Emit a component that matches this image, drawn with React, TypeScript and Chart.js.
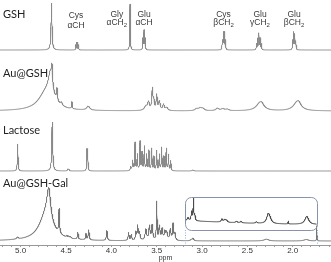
import React, { useEffect, useRef } from "react";
import { Chart, registerables } from "chart.js";
Chart.register(...registerables);

// ---- axis ----
const X_MIN = 1.578;
const X_MAX = 5.228;
const Y_MAX = 245;
const TICK_VALUES = [5.2, 5.1, 5.0, 4.9, 4.8, 4.7, 4.6, 4.5, 4.4, 4.3, 4.2, 4.1, 4.0, 3.9, 3.8, 3.7, 3.6, 3.5, 3.4, 3.3, 3.2, 3.1, 3.0, 2.9, 2.8, 2.7, 2.6, 2.5, 2.4, 2.3, 2.2, 2.1, 2.0, 1.9, 1.8, 1.7, 1.6];
const TICK_LABELS = ["5.0", "4.5", "4.0", "3.5", "3.0", "2.5", "2.0"];
const AXIS_TITLE = "ppm";

// ---- peaks: [ppm, height, half width (ppm)] ----
const gshPeaks: [number, number, number][] = [
  [4.66, 47, 0.006],
  [4.392, 5, 0.002], [4.383, 7.5, 0.002], [4.370, 7.5, 0.002], [4.361, 5, 0.002],
  [3.794, 46, 0.003],
  [3.652, 11, 0.003], [3.640, 19, 0.003], [3.628, 11, 0.003],
  [2.776, 9, 0.003], [2.765, 17, 0.003], [2.753, 17, 0.003], [2.742, 9, 0.003],
  [2.40, 6, 0.003], [2.387, 11, 0.003], [2.373, 16, 0.003], [2.360, 11, 0.003], [2.346, 6, 0.003],
  [2.001, 9, 0.003], [1.990, 17, 0.003], [1.977, 15, 0.003], [1.966, 8, 0.003],
];

const auGshPeaks: [number, number, number][] = [
  [4.72, 18, 0.1], [4.67, 25, 0.03], [4.655, 15, 0.006],
  [4.60, 12, 0.006], [4.55, 3, 0.01], [4.435, 7, 0.004], [4.255, 4, 0.02],
  [3.62, 4, 0.02], [3.59, 8, 0.012], [3.548, 21, 0.007], [3.532, 9, 0.007],
  [3.50, 15, 0.007], [3.47, 9, 0.01], [3.425, 6, 0.01], [3.39, 3, 0.015],
  [3.06, 2, 0.02], [3.02, 2.5, 0.02], [2.99, 2, 0.02],
  [2.83, 2.5, 0.02], [2.77, 2, 0.02], [2.72, 1.5, 0.02],
  [2.36, 8, 0.05], [2.34, 2, 0.02],
  [1.95, 9, 0.05], [1.93, 2, 0.02],
];

const lactosePeaks: [number, number, number][] = [
  [5.033, 27, 0.004],
  [4.652, 49, 0.006],
  [4.48, 1.5, 0.006], [4.47, 1.5, 0.006],
  [4.269, 20, 0.003], [4.261, 20, 0.003],
  [3.787, 4, 0.005], [3.765, 10, 0.005], [3.739, 28, 0.004], [3.714, 16, 0.004],
  [3.684, 29, 0.004], [3.662, 18, 0.004], [3.637, 24, 0.004], [3.610, 16, 0.004],
  [3.585, 20, 0.004], [3.555, 22, 0.004], [3.53, 14, 0.004], [3.50, 20, 0.004],
  [3.471, 16, 0.004], [3.445, 23, 0.004], [3.42, 14, 0.004], [3.395, 22, 0.004],
  [3.37, 16, 0.004], [3.345, 10, 0.004],
  [3.10, 1, 0.01],
];

const auGshGalPeaks: [number, number, number][] = [
  [4.72, 26, 0.09], [4.69, 30, 0.025],
  [5.035, 2, 0.01],
  [4.576, 24, 0.005],
  [4.49, 1.5, 0.006], [4.47, 1.5, 0.006], [4.45, 1.5, 0.006],
  [4.37, 7, 0.005], [4.28, 6, 0.005], [4.25, 10, 0.006],
  [4.05, 10, 0.006],
  [3.81, 8, 0.006], [3.78, 6, 0.006], [3.73, 8, 0.006], [3.71, 14, 0.006], [3.69, 8, 0.008],
  [3.62, 11, 0.01], [3.58, 14, 0.008], [3.55, 15, 0.008],
  [3.50, 38, 0.004], [3.47, 14, 0.008], [3.44, 11, 0.008], [3.41, 8, 0.008],
  [3.39, 8, 0.01], [3.35, 11, 0.008], [3.32, 16, 0.006], [3.30, 7, 0.008],
  [3.12, 1, 0.01], [3.10, 2.5, 0.01],
  [2.29, 1.8, 0.03], [1.85, 1.5, 0.03],
  [1.735, 15, 0.002],
];

// expanded view of Au@GSH-Gal (3.19 - 1.73 ppm)
const INSET_RANGE = [3.188, 1.733];
const insetPeaks: [number, number, number][] = [
  [3.35, 5, 0.8],
  [3.155, 3, 0.01], [3.115, 9, 0.006], [3.095, 22, 0.004], [3.08, 5, 0.006],
  [2.78, 3, 0.01], [2.75, 2.5, 0.01], [2.73, 2, 0.01],
  [2.62, 1.5, 0.01], [2.57, 1.5, 0.01], [2.40, 1.5, 0.01],
  [2.27, 9, 0.02], [2.25, 3, 0.02],
  [2.05, 3, 0.003],
  [1.845, 8, 0.025],
];

const SPECTRUM_NAMES = ["GSH", "Au@GSH", "Lactose", "Au@GSH-Gal"];
const SPECTRUM_PEAKS = [gshPeaks, auGshPeaks, lactosePeaks, auGshGalPeaks];
const SPECTRUM_OFFSETS = [195, 134, 74, 4];
const SPECTRUM_COLORS = ["#8a8a8a", "#8a8a8a", "#8a8a8a", "#747474"];
const INSET_OFFSET = 19.5;

const ANNOTATIONS = [
  { ppm: 4.39, y1: 229, y2: 219, top: "Cys", bottom: "\u03b1CH", sub: "" },
  { ppm: 3.94, y1: 230.5, y2: 222, top: "Gly", bottom: "\u03b1CH", sub: "2" },
  { ppm: 3.64, y1: 230.5, y2: 222, top: "Glu", bottom: "\u03b1CH", sub: "" },
  { ppm: 2.763, y1: 230.5, y2: 222, top: "Cys", bottom: "\u03b2CH", sub: "2" },
  { ppm: 2.361, y1: 230.5, y2: 222, top: "Glu", bottom: "\u03b3CH", sub: "2" },
  { ppm: 1.986, y1: 230.5, y2: 222, top: "Glu", bottom: "\u03b2CH", sub: "2" },
];
const NAME_POS = [
  { ppm: 5.195, y: 231 },
  { ppm: 5.195, y: 172 },
  { ppm: 5.195, y: 115 },
  { ppm: 5.195, y: 62 },
];
const INSET_BOX_Y = [15, 48];

const STEP = 0.001;

function spectrum(peaks: [number, number, number][], from: number, to: number, offset: number) {
  const pts: { x: number; y: number }[] = [];
  const n = Math.round((from - to) / STEP);
  for (let i = 0; i <= n; i++) {
    const x = from - i * STEP;
    let s = 0;
    for (const [c, h, w] of peaks) {
      const d = (x - c) / w;
      s += h / (1 + d * d);
    }
    pts.push({ x, y: offset + s });
  }
  return pts;
}

const overlay = {
  id: "overlay",
  afterDatasetsDraw(chart: any) {
    const { ctx } = chart;
    const xs = chart.scales.x;
    const ys = chart.scales.y;
    ctx.save();
    // inset box
    const bx0 = xs.getPixelForValue(INSET_RANGE[0]);
    const bx1 = xs.getPixelForValue(INSET_RANGE[1]);
    const byTop = ys.getPixelForValue(INSET_BOX_Y[1]);
    const byBot = ys.getPixelForValue(INSET_BOX_Y[0]);
    ctx.strokeStyle = "#8593ad";
    ctx.lineWidth = 1;
    ctx.beginPath();
    (ctx as any).roundRect(Math.round(bx0) + 0.5, Math.round(byTop) + 0.5, Math.round(bx1 - bx0), Math.round(byBot - byTop), 6);
    ctx.stroke();
    // dotted guides
    ctx.strokeStyle = "#8fb0d8";
    ctx.setLineDash([1, 1.5]);
    const yAxis = ys.getPixelForValue(0);
    for (const bx of [bx0, bx1]) {
      ctx.beginPath();
      ctx.moveTo(Math.round(bx) + 0.5, byBot);
      ctx.lineTo(Math.round(bx) + 0.5, yAxis);
      ctx.stroke();
    }
    ctx.setLineDash([]);
    // spectrum names
    ctx.fillStyle = "#222";
    ctx.font = "11px Lato";
    ctx.textAlign = "left";
    ctx.textBaseline = "middle";
    SPECTRUM_NAMES.forEach((name, i) => {
      ctx.fillText(name, xs.getPixelForValue(NAME_POS[i].ppm), ys.getPixelForValue(NAME_POS[i].y));
    });
    // annotations
    ctx.fillStyle = "#3a3a3a";
    const main = "8.5px 'Liberation Sans'";
    const small = "6px 'Liberation Sans'";
    for (const a of ANNOTATIONS) {
      const cx = xs.getPixelForValue(a.ppm);
      ctx.font = main;
      ctx.textAlign = "center";
      ctx.fillText(a.top, cx, ys.getPixelForValue(a.y1));
      const w1 = ctx.measureText(a.bottom).width;
      ctx.font = small;
      const w2 = a.sub ? ctx.measureText(a.sub).width : 0;
      const left = cx - (w1 + w2) / 2;
      const yb = ys.getPixelForValue(a.y2);
      ctx.textAlign = "left";
      ctx.font = main;
      ctx.fillText(a.bottom, left, yb);
      if (a.sub) {
        ctx.font = small;
        ctx.fillText(a.sub, left + w1, yb + 2.5);
      }
    }
    ctx.restore();
  },
};

export default function App() {
  const ref = useRef<HTMLCanvasElement>(null);
  useEffect(() => {
    if (!ref.current) return;
    const datasets: any[] = SPECTRUM_PEAKS.map((p, i) => ({
      label: SPECTRUM_NAMES[i],
      data: spectrum(p, X_MAX, X_MIN, SPECTRUM_OFFSETS[i]),
      borderColor: SPECTRUM_COLORS[i],
      borderWidth: 1,
      pointRadius: 0,
      tension: 0,
      fill: false,
    }));
    datasets.push({
      label: "inset",
      data: spectrum(insetPeaks, INSET_RANGE[0], INSET_RANGE[1], INSET_OFFSET),
      borderColor: "#4a4a4a",
      borderWidth: 1,
      pointRadius: 0,
      tension: 0,
      fill: false,
    });
    const chart = new Chart(ref.current, {
      type: "line",
      data: { datasets },
      options: {
        animation: false,
        responsive: false,
        devicePixelRatio: 1,
        parsing: false,
        normalized: true,
        layout: { padding: 0 },
        plugins: { legend: { display: false }, tooltip: { enabled: false }, title: { display: false } },
        scales: {
          x: {
            type: "linear",
            reverse: true,
            min: X_MIN,
            max: X_MAX,
            afterBuildTicks: (axis: any) => {
              axis.ticks = TICK_VALUES.map((v) => ({ value: v }));
            },
            ticks: {
              autoSkip: false,
              maxRotation: 0,
              padding: 0,
              color: "#333",
              font: { family: "'Liberation Sans'", size: 8, lineHeight: 1 },
              callback: (v: any) => {
                const lab = TICK_LABELS.find((t) => Math.abs(parseFloat(t) - Number(v)) < 1e-6);
                return lab ?? "";
              },
            },
            grid: { drawOnChartArea: false, drawTicks: true, tickLength: 2, color: "#999" },
            border: { display: true, color: "#999", width: 1 },
            title: {
              display: true,
              text: AXIS_TITLE,
              color: "#333",
              padding: 0,
              font: { family: "'Liberation Sans'", size: 7, lineHeight: 1 },
            },
          },
          y: { display: false, min: 0, max: Y_MAX },
        },
      } as any,
      plugins: [overlay],
    });
    return () => chart.destroy();
  }, []);
  return (
    <div style={{ position: "fixed", left: 0, top: 0, width: 331, height: 262, background: "#fff" }}>
      <canvas ref={ref} width={331} height={262} style={{ width: 331, height: 262 }} />
    </div>
  );
}
